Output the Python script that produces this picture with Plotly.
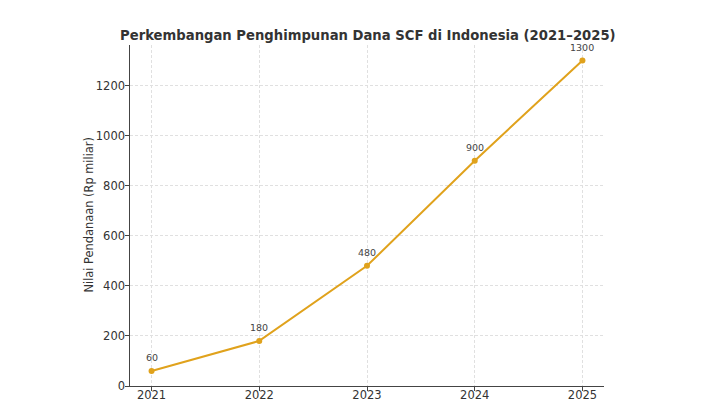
import plotly.graph_objects as go

years = [2021, 2022, 2023, 2024, 2025]
values = [60, 180, 480, 900, 1300]
y_ticks = [0, 200, 400, 600, 800, 1000, 1200]

color = "#E0A21C"
font = "DejaVu Sans"

fig = go.Figure()
fig.add_trace(go.Scatter(
    x=years, y=values, mode="lines+markers",
    line=dict(color=color, width=2),
    marker=dict(color=color, size=6),
    hoverinfo="skip",
))
for x, y in zip(years, values):
    fig.add_annotation(x=x, y=y, text=str(y), showarrow=False, yshift=13,
                       font=dict(family=font, size=9.5, color="#444444"))

# y-axis title as a rotated annotation
fig.add_annotation(xref="paper", yref="paper", x=0, y=0.5, xshift=-42,
                   text="Nilai Pendanaan (Rp miliar)", textangle=-90,
                   showarrow=False, xanchor="center", yanchor="middle",
                   font=dict(family=font, size=11.4, color="#333333"))

fig.update_layout(
    template="none",
    width=707, height=399,
    margin=dict(l=122, r=110.5, t=37, b=21, pad=0),
    paper_bgcolor="white", plot_bgcolor="white",
    showlegend=False,
    title=dict(text="<b>Perkembangan Penghimpunan Dana SCF di Indonesia (2021–2025)</b>",
               x=0.509, xanchor="center", y=0.932, yanchor="middle",
               font=dict(family=font, size=13.2, color="#333333")),
    font=dict(family=font, size=11.5, color="#333333"),
)
fig.update_xaxes(
    automargin=False,
    range=[2020.8, 2025.2], tickvals=years, ticktext=[str(y) for y in years],
    showgrid=True, gridcolor="#e0e0e0", griddash="3px,2px", gridwidth=0.7,
    showline=True, linecolor="#444444", linewidth=1.3,
    ticks="outside", ticklen=3.5, tickcolor="#444444",
    zeroline=False, tickfont=dict(size=11.5), ticklabelstandoff=-5,
)
fig.update_yaxes(
    automargin=False,
    range=[0, 1362], tickvals=y_ticks,
    showgrid=True, gridcolor="#e0e0e0", griddash="3px,2px", gridwidth=0.7,
    showline=True, linecolor="#444444", linewidth=1.3,
    ticks="outside", ticklen=3.5, tickcolor="#444444",
    zeroline=False, tickfont=dict(size=11.5), ticklabelstandoff=-2,
)

fig.write_html("out.html")
